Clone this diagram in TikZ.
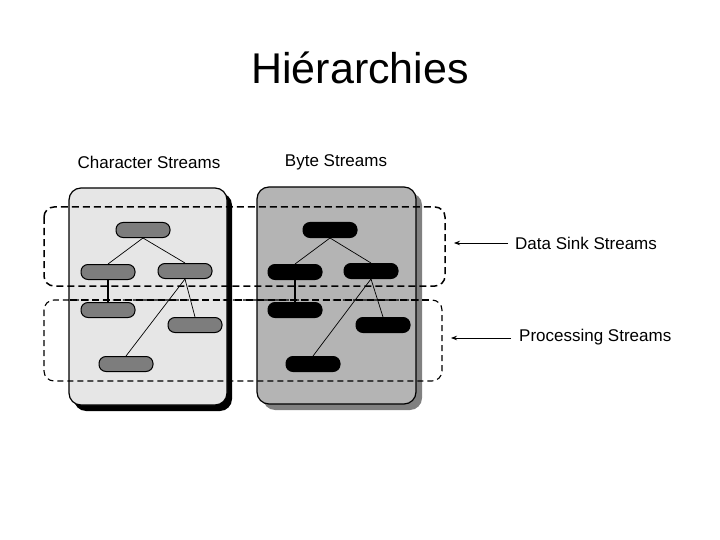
\documentclass[tikz,border=0pt]{standalone}
\usepackage{fontspec}
\setmainfont{Liberation Sans}
\usetikzlibrary{arrows.meta}
\definecolor{lpanel}{RGB}{230,230,230}
\definecolor{rpanel}{RGB}{180,180,180}
\definecolor{rshadow}{RGB}{128,128,128}
\definecolor{lnode}{RGB}{125,125,125}
\tikzset{
  panel/.style={draw=black, line width=1.2pt, rounded corners=12pt},
  pill/.style={draw=black, line width=1pt, minimum width=54pt, minimum height=15pt, rounded corners=7pt, inner sep=0pt},
  lpill/.style={pill, fill=lnode},
  rpill/.style={pill, fill=black},
  link/.style={draw=black, line width=0.7pt},
  vlink/.style={draw=black, line width=1.6pt},
  thickdash/.style={draw=black, line width=1.5pt, dash pattern=on 7pt off 4pt, rounded corners=10pt},
  thindash/.style={draw=black, line width=1.1pt, dash pattern=on 6pt off 4pt, rounded corners=10pt},
  lbl/.style={font=\fontsize{17}{19}\selectfont, inner sep=0pt},
  arr/.style={draw=black, line width=0.8pt, -{Stealth[length=6pt,width=4.5pt]}},
}
\begin{document}
\begin{tikzpicture}[x=1pt,y=-1pt]
\useasboundingbox (0,0) rectangle (720,540);
% title
\node[font=\fontsize{43}{50}\selectfont, inner sep=0pt] (title) at (360,68) {Hiérarchies};
% column headers
\node[lbl] (hchar) at (149,162) {Character Streams};
\node[lbl] (hbyte) at (336,162) {Byte Streams};
% panels with shadows
\fill[black, rounded corners=12pt] (74,193) rectangle (232,411);
\node[panel, fill=lpanel, minimum width=158pt, minimum height=217pt, inner sep=0pt] (lp) at (148,296.5) {};
\fill[rshadow, rounded corners=12pt] (263,193) rectangle (422,410);
\node[panel, fill=rpanel, minimum width=159pt, minimum height=217pt, inner sep=0pt] (rp) at (336.5,295.5) {};
% dashed grouping boxes
\draw[thickdash] (44,207) rectangle (445,286);
\draw[thindash] (44,300) rectangle (442,381);
\draw[draw=black, line width=1.5pt, dash pattern=on 7pt off 4pt] (70,300) -- (430,300);
% left tree
\node[lpill] (c1) at (143,230) {};
\node[lpill] (c2) at (108,272) {};
\node[lpill] (c3) at (185,271) {};
\node[lpill] (c4) at (108,310) {};
\node[lpill] (c5) at (195,325) {};
\node[lpill] (c6) at (126,364) {};
\draw[link] (c1.south) -- (c2.north);
\draw[link] (c1.south) -- (c3.north);
\draw[vlink] (c2.south) -- (c4.north);
\draw[link] (c3.south) -- (c5.north);
\draw[link] (c3.south) -- (c6.north);
% right tree
\node[rpill] (b1) at (330,230) {};
\node[rpill] (b2) at (295,272) {};
\node[rpill] (b3) at (371,271) {};
\node[rpill] (b4) at (295,310) {};
\node[rpill] (b5) at (383,325) {};
\node[rpill] (b6) at (313,364) {};
\draw[link] (b1.south) -- (b2.north);
\draw[link] (b1.south) -- (b3.north);
\draw[vlink] (b2.south) -- (b4.north);
\draw[link] (b3.south) -- (b5.north);
\draw[link] (b3.south) -- (b6.north);
% side labels and arrows
\node[lbl, anchor=west] (ds) at (515,243) {Data Sink Streams};
\node[lbl, anchor=west] (ps) at (519,337) {Processing Streams};
\coordinate (dsend) at (454,243);
\coordinate (psend) at (451,338);
\draw[arr, shorten <=7pt] (ds.west) -- (dsend);
\draw[arr, shorten <=8pt] (ps.west |- psend) -- (psend);
\end{tikzpicture}
\end{document}
